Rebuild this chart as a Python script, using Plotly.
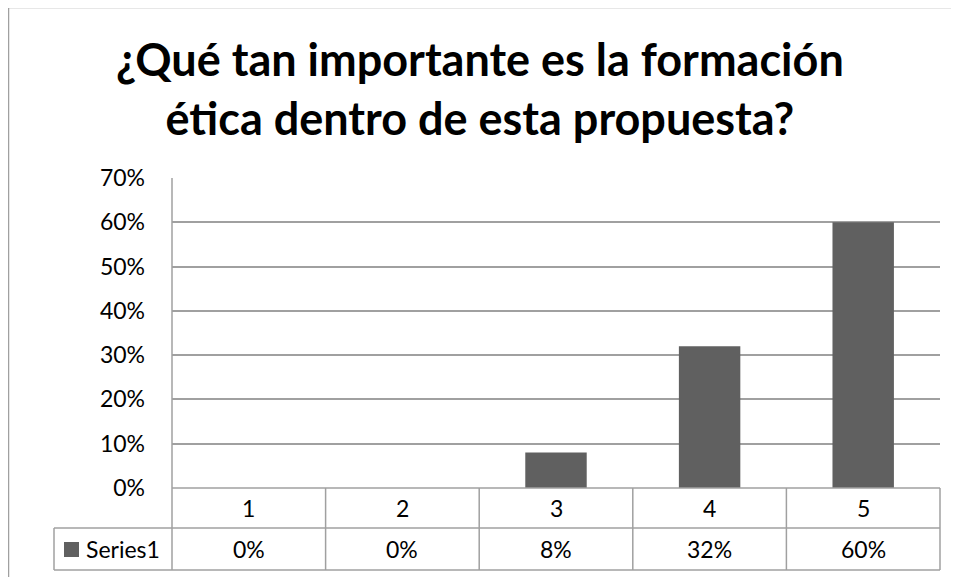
import plotly.graph_objects as go

# data
categories = ["1", "2", "3", "4", "5"]
series_name = "Series1"
values = [0.0, 0.0, 0.08, 0.32, 0.60]
value_labels = ["0%", "0%", "8%", "32%", "60%"]
y_ticks = [0, 0.1, 0.2, 0.3, 0.4, 0.5, 0.6, 0.7]
y_tick_labels = ["0%", "10%", "20%", "30%", "40%", "50%", "60%", "70%"]
title = "¿Qué tan importante es la formación<br>ética dentro de esta propuesta?"

OFF = 8  # page body margin
W, H = 959 - OFF, 577 - OFF
# plot area in screen pixels
L, R, T, B = 172, 940, 178, 488
LINE = "#a0a0a0"
BAR = "#606060"
FONT = "Lato, 'Open Sans', sans-serif"
TXT = 23


def px_x(p):
    return (p - L) / (R - L)


def px_y(p):
    return (B - p) / (B - T)


fig = go.Figure()
fig.add_trace(go.Bar(
    x=categories, y=values, name=series_name,
    marker=dict(color=BAR, line=dict(width=0)), width=0.4, showlegend=False,
    hoverinfo="skip",
))

shapes = []
def hline(y0, xa, xb, xref="paper"):
    shapes.append(dict(type="line", xref=xref, yref="paper",
                       x0=xa, x1=xb, y0=px_y(y0), y1=px_y(y0),
                       line=dict(color=LINE, width=1.5)))

def vline(x0, ya, yb, xref="paper"):
    shapes.append(dict(type="line", xref=xref, yref="paper",
                       x0=x0, x1=x0, y0=px_y(ya), y1=px_y(yb),
                       line=dict(color=LINE, width=1.5)))

# outer chart border (left and top)
vline(px_x(8.5), 7.5, 600)
hline(7.5, px_x(8.5), px_x(1000))

# data table
hline(488, 0, 1)
hline(528, px_x(54), 1)
hline(570, px_x(54), 1)
vline(px_x(54), 528, 570)
vline(0, 178, 570)
vline(1, 488, 570)
for i in range(1, len(categories)):
    vline(i - 0.5, 488, 570, xref="x")
# legend key
shapes.append(dict(type="rect", xref="paper", yref="paper",
                   x0=px_x(64), x1=px_x(79), y0=px_y(542), y1=px_y(557),
                   fillcolor=BAR, line=dict(width=0)))

annotations = [dict(text="<b>" + title.replace("<br>", "</b><br><b>") + "</b>",
                    x=px_x(480), y=px_y(88), xref="paper", yref="paper",
                    xanchor="center", yanchor="middle", showarrow=False,
                    font=dict(family=FONT, size=45, color="black"))]
for i, (c, lab) in enumerate(zip(categories, value_labels)):
    annotations.append(dict(text=c, x=i, xref="x", y=px_y(508), yref="paper",
                            yanchor="middle", showarrow=False,
                            font=dict(family=FONT, size=TXT, color="black")))
    annotations.append(dict(text=lab, x=i, xref="x", y=px_y(549), yref="paper",
                            yanchor="middle", showarrow=False,
                            font=dict(family=FONT, size=TXT, color="black")))
annotations.append(dict(text=series_name, x=px_x(84), y=px_y(549), xref="paper", yref="paper",
                        xanchor="left", yanchor="middle", showarrow=False,
                        font=dict(family=FONT, size=TXT, color="black")))

fig.update_layout(
    width=W, height=H,
    margin=dict(l=L - OFF, r=W - (R - OFF), t=T - OFF, b=H - (B - OFF), pad=0),
    paper_bgcolor="white", plot_bgcolor="white",
    shapes=shapes, annotations=annotations,
    font=dict(family=FONT, size=TXT, color="black"),
    xaxis=dict(showticklabels=False, showgrid=False, showline=False, zeroline=False,
               range=[-0.5, 4.5], fixedrange=True),
    yaxis=dict(range=[0, 0.7], tickvals=y_ticks, ticktext=y_tick_labels,
               showgrid=True, gridcolor=LINE, gridwidth=1.5, zeroline=False,
               showline=False, ticks="", ticklabelstandoff=26, fixedrange=True),
)

fig.write_html("out.html")
